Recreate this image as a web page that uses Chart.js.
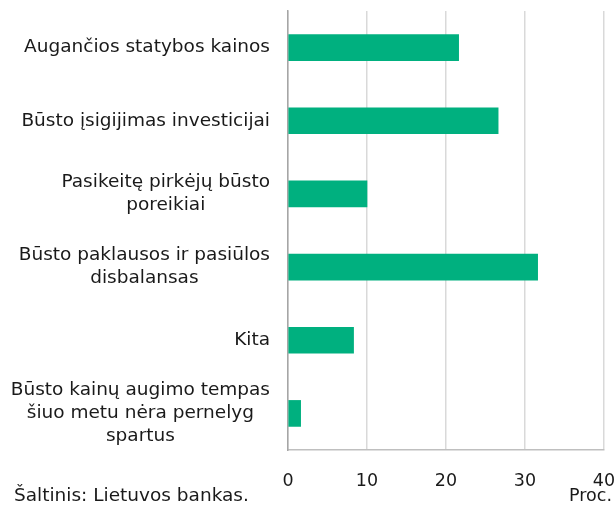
<!DOCTYPE html>
<html lang="lt">
  <head>
    <meta charset="UTF-8" />
    <title>Būsto kainų augimo priežastys</title>
    <script src="https://cdn.jsdelivr.net/npm/chart.js@4"></script>
    <style>
      body { margin: 0; background: #fff; }
      #wrap { width: 616px; height: 507px; }
    </style>
  </head>
  <body>
    <div id="wrap"><canvas id="myChart" width="616" height="507"></canvas></div>

    <script>
      // Kategorijos (eilutės laužomos rankiniu būdu)
      const kategorijos = [
        ['Augančios statybos kainos'],
        ['Būsto įsigijimas investicijai'],
        ['Pasikeitę pirkėjų būsto', 'poreikiai'],
        ['Būsto paklausos ir pasiūlos', 'disbalansas'],
        ['Kita'],
        ['Būsto kainų augimo tempas', 'šiuo metu nėra pernelyg', 'spartus']
      ];
      const reiksmes = [21.6, 26.6, 10.0, 31.6, 8.3, 1.6];
      const xTicks = [0, 10, 20, 30, 40];
      const saltinis = 'Šaltinis: Lietuvos bankas.';
      const vienetai = 'Proc.';

      const FONT = 'Verdana, "DejaVu Sans", sans-serif';
      const TEXT = '#1a1a1a';

      // y ašies žymės: blokas lygiuojamas dešinėje, eilutės centruojamos
      const etiketes = {
        id: 'etiketes',
        afterDraw(chart) {
          const ctx = chart.ctx;
          const y = chart.scales.y;
          ctx.save();
          ctx.font = '18.5px ' + FONT;
          ctx.fillStyle = TEXT;
          ctx.textAlign = 'center';
          ctx.textBaseline = 'middle';
          const right = y.right - 18;
          const lh = 23;
          kategorijos.forEach((lines, i) => {
            const cy = y.getPixelForTick(i);
            const w = Math.max(...lines.map(l => ctx.measureText(l).width));
            const cx = right - w / 2;
            const y0 = cy - (lines.length - 1) * lh / 2;
            lines.forEach((l, k) => ctx.fillText(l, cx, y0 + k * lh));
          });
          // šaltinis ir vienetai
          ctx.textAlign = 'left';
          ctx.fillText(saltinis, 14, 496);
          ctx.font = '17.5px ' + FONT;
          ctx.textAlign = 'right';
          ctx.fillText(vienetai, 612, 496);
          ctx.restore();
        }
      };

      const ctx = document.getElementById('myChart').getContext('2d');
      new Chart(ctx, {
        type: 'bar',
        data: {
          labels: kategorijos.map(k => k.join(' ')),
          datasets: [{
            data: reiksmes,
            backgroundColor: '#00b07f',
            borderWidth: 0,
            barThickness: 26
          }]
        },
        options: {
          indexAxis: 'y',
          responsive: false,
          animation: false,
          layout: { padding: { top: 11, right: 0, bottom: 0, left: 0 } },
          plugins: {
            legend: { display: false },
            tooltip: { enabled: false }
          },
          scales: {
            x: {
              min: 0,
              max: 40,
              afterBuildTicks: s => { s.ticks = xTicks.map(v => ({ value: v })); },
              afterFit: s => { s.height = 57; s.paddingRight = 12; },
              grid: { color: '#d9d9d9', lineWidth: 1.5, drawTicks: false },
              border: { color: '#bfbfbf', width: 1.5 },
              ticks: { color: TEXT, font: { family: FONT, size: 17.5 }, padding: 21, maxRotation: 0 }
            },
            y: {
              afterFit: s => { s.width = 288; },
              ticks: { display: false },
              grid: { display: false },
              border: { color: '#a6a6a6', width: 1.5 }
            }
          }
        },
        plugins: [etiketes]
      });
    </script>
  </body>
</html>
